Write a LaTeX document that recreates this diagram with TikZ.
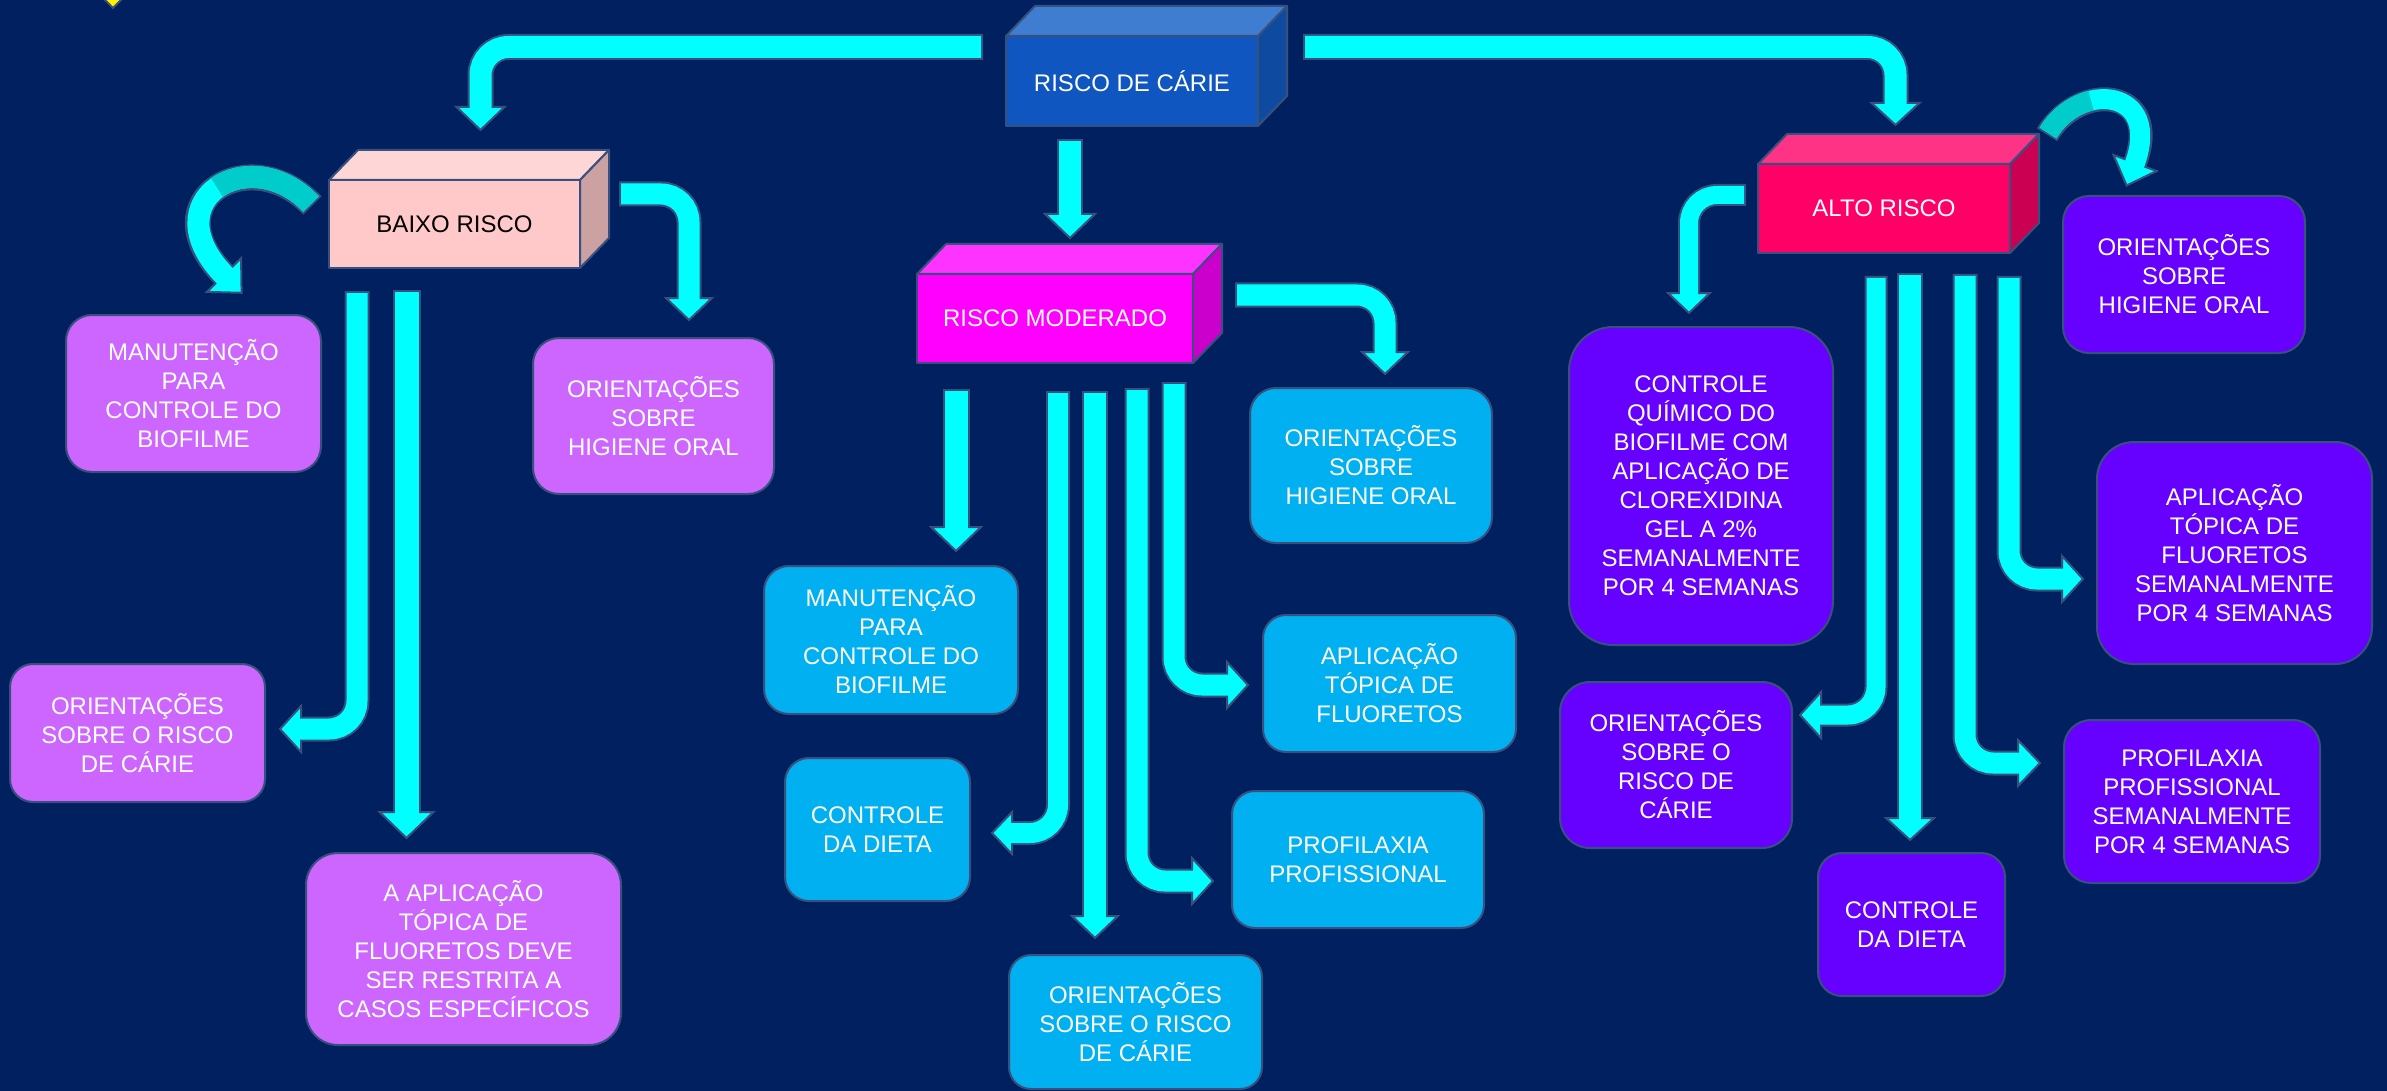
\documentclass[tikz,border=0pt]{standalone}
\usepackage{fontspec}
\setmainfont{Liberation Sans}
\usetikzlibrary{calc}

\definecolor{navy}{RGB}{0,32,96}
\definecolor{edge}{RGB}{56,80,125}
\definecolor{flow}{RGB}{0,255,255}
\definecolor{flowdark}{RGB}{0,204,204}
\definecolor{lilac}{RGB}{204,102,255}
\definecolor{sky}{RGB}{0,176,240}
\definecolor{violet}{RGB}{102,0,255}
% cuboid faces: front / top / side
\definecolor{blueF}{RGB}{15,86,192}
\definecolor{blueT}{RGB}{63,125,208}
\definecolor{blueS}{RGB}{14,75,160}
\definecolor{pinkF}{RGB}{255,201,201}
\definecolor{pinkT}{RGB}{255,214,214}
\definecolor{pinkS}{RGB}{204,161,161}
\definecolor{magF}{RGB}{255,0,255}
\definecolor{magT}{RGB}{255,51,255}
\definecolor{magS}{RGB}{204,0,204}
\definecolor{redF}{RGB}{255,0,102}
\definecolor{redT}{RGB}{255,51,133}
\definecolor{redS}{RGB}{204,0,82}

\newcommand{\boxfont}{\fontsize{24}{29}\selectfont}

\tikzset{
  card/.style={draw=edge, line width=2pt, rounded corners=#1, text=white,
    align=center, font=\boxfont, inner sep=0pt, outer sep=0pt},
  card/.default=25pt,
  face/.style={draw=edge, line width=2pt, inner sep=0pt, outer sep=0pt,
    font=\boxfont, line join=round, align=center},
}

% rounded text box: name, fill, cx, cy, width, height, radius, text
\newcommand{\card}[8]{%
  \node[card=#7, fill=#2, minimum width=#5pt, minimum height=#6pt] (#1) at (#3,#4) {#8};}

% 3D block: name, cx, cy, width, height, front, top, side, text
\newcommand{\cuboid}[9]{%
  \node[face, fill=#6, text=white, minimum width=#4pt, minimum height=#5pt] (#1) at (#2,#3) {#9};
  \filldraw[fill=#7, draw=edge, line width=2pt, line join=round]
    (#1.north west) -- ++(29,-30) -- ($(#1.north east)+(29,-30)$) -- (#1.north east) -- cycle;
  \filldraw[fill=#8, draw=edge, line width=2pt, line join=round]
    (#1.north east) -- ++(29,-30) -- ($(#1.south east)+(29,-30)$) -- (#1.south east) -- cycle;}

% block arrow: band width, head half-width, start, connector, head base, tip
\newcommand{\flowarrow}[6]{%
  \draw[line width=#1+4pt, edge, rounded corners=28pt, shorten <=-2pt] (#3) #4 (#5);
  \filldraw[fill=flow, draw=edge, line width=2pt]
    ($(#5)!#2!90:(#6)$) -- (#6) -- ($(#5)!#2!-90:(#6)$) -- cycle;
  \draw[line width=#1, flow, rounded corners=28pt, shorten >=-2pt] (#3) #4 (#5);}

\begin{document}
\begin{tikzpicture}[x=1pt,y=-1pt]
\useasboundingbox (0,0) rectangle (2387,1091);
\clip (0,0) rectangle (2387,1091);
\fill[navy] (0,0) rectangle (2387,1091);

% small marker in the upper left corner
\filldraw[fill=yellow, draw=edge, line width=2pt] (100,-5) -- (113,8) -- (126,-5) -- (113,-18) -- cycle;

% ---------- arrow end points ----------
\coordinate (tl-s) at (981,47);    \coordinate (tl-b) at (480.5,107); \coordinate (tl-t) at (480.5,130);
\coordinate (tr-s) at (1305,47);   \coordinate (tr-b) at (1895.5,103);\coordinate (tr-t) at (1895.5,125);
\coordinate (tm-s) at (1070,141);  \coordinate (tm-b) at (1070,214);  \coordinate (tm-t) at (1070,238);

\coordinate (br-s) at (621,194);   \coordinate (br-b) at (689,298);   \coordinate (br-t) at (689,320);
\coordinate (b1-s) at (357,293);   \coordinate (b1-b) at (301,729);   \coordinate (b1-t) at (280,729);
\coordinate (b2-s) at (406.5,292); \coordinate (b2-b) at (406.5,812); \coordinate (b2-t) at (406.5,838);

\coordinate (mr-s) at (1237,295);  \coordinate (mr-b) at (1385,352);  \coordinate (mr-t) at (1385,374);
\coordinate (m1-s) at (956,391);   \coordinate (m1-b) at (956,527);   \coordinate (m1-t) at (956,551);
\coordinate (m2-s) at (1058,393);  \coordinate (m2-b) at (1012,833);  \coordinate (m2-t) at (992,833);
\coordinate (m3-s) at (1095,393);  \coordinate (m3-b) at (1095,916);  \coordinate (m3-t) at (1095,938);
\coordinate (m4-s) at (1137,390);  \coordinate (m4-b) at (1192,881);  \coordinate (m4-t) at (1213,881);
\coordinate (m5-s) at (1174,384);  \coordinate (m5-b) at (1227,685);  \coordinate (m5-t) at (1248,685);

\coordinate (al-s) at (1744,195);  \coordinate (al-b) at (1689,293);  \coordinate (al-t) at (1689,313);
\coordinate (a1-s) at (1876,278);  \coordinate (a1-b) at (1821,715);  \coordinate (a1-t) at (1800,715);
\coordinate (a2-s) at (1910,275);  \coordinate (a2-b) at (1910,818);  \coordinate (a2-t) at (1910,840);
\coordinate (a3-s) at (1965,276);  \coordinate (a3-b) at (2018,763);  \coordinate (a3-t) at (2040,763);
\coordinate (a4-s) at (2009,278);  \coordinate (a4-b) at (2062,579);  \coordinate (a4-t) at (2083,579);

\coordinate (ll-s) at (311,204);   \coordinate (ll-b) at (224,275);   \coordinate (ll-t) at (241.6,292.8);
\coordinate (rl-s) at (2048,133);  \coordinate (rl-b) at (2135,163);  \coordinate (rl-t) at (2126.6,185.5);

% ---------- straight and elbow arrows ----------
\flowarrow{22pt}{24pt}{tl-s}{-|}{tl-b}{tl-t}
\flowarrow{22pt}{24pt}{tr-s}{-|}{tr-b}{tr-t}
\flowarrow{22pt}{25pt}{tm-s}{--}{tm-b}{tm-t}

\flowarrow{21pt}{23pt}{br-s}{-|}{br-b}{br-t}
\flowarrow{21pt}{23pt}{b1-s}{|-}{b1-b}{b1-t}
\flowarrow{24pt}{27pt}{b2-s}{--}{b2-b}{b2-t}

\flowarrow{21pt}{23pt}{mr-s}{-|}{mr-b}{mr-t}
\flowarrow{23pt}{25pt}{m1-s}{--}{m1-b}{m1-t}
\flowarrow{20pt}{21pt}{m2-s}{|-}{m2-b}{m2-t}
\flowarrow{22pt}{23pt}{m3-s}{--}{m3-b}{m3-t}
\flowarrow{21pt}{23pt}{m4-s}{|-}{m4-b}{m4-t}
\flowarrow{21pt}{23pt}{m5-s}{|-}{m5-b}{m5-t}

\flowarrow{18pt}{21pt}{al-s}{-|}{al-b}{al-t}
\flowarrow{19pt}{23pt}{a1-s}{|-}{a1-b}{a1-t}
\flowarrow{22pt}{24pt}{a2-s}{--}{a2-b}{a2-t}
\flowarrow{21pt}{23pt}{a3-s}{|-}{a3-b}{a3-t}
\flowarrow{21pt}{23pt}{a4-s}{|-}{a4-b}{a4-t}

% ---------- curved arrows, shaded where they pass behind ----------
\draw[line width=26pt, edge, shorten <=-2pt] (ll-s) .. controls (250,140) and (150,200) .. (ll-b);
\filldraw[fill=flow, draw=edge, line width=2pt]
  ($(ll-b)!24pt!90:(ll-t)$) -- (ll-t) -- ($(ll-b)!24pt!-90:(ll-t)$) -- cycle;
\draw[line width=22pt, flow, shorten >=-2pt] (ll-s) .. controls (250,140) and (150,200) .. (ll-b);
\draw[line width=22pt, flowdark] (ll-s) .. controls (280.5,172) and (240.25,171) .. (216.9,187.4);

\draw[line width=24pt, edge, shorten <=-2pt] (rl-s) .. controls (2080,80) and (2163,88) .. (rl-b);
\filldraw[fill=flow, draw=edge, line width=2pt]
  ($(rl-b)!23pt!90:(rl-t)$) -- (rl-t) -- ($(rl-b)!23pt!-90:(rl-t)$) -- cycle;
\draw[line width=20pt, flow, shorten >=-2pt] (rl-s) .. controls (2080,80) and (2163,88) .. (rl-b);
\draw[line width=20pt, flowdark] (rl-s) .. controls (2058.67,115.33) and (2075,104.44) .. (2091,100.55);

% ---------- 3D blocks ----------
\cuboid{carie}{1132}{81}{252}{90}{blueF}{blueT}{blueS}{RISCO DE CÁRIE}
\cuboid{baixo}{454.5}{224}{251}{88}{pinkF}{pinkT}{pinkS}{\color{black}BAIXO RISCO}
\cuboid{moderado}{1055}{318.5}{276}{89}{magF}{magT}{magS}{RISCO MODERADO}
\cuboid{alto}{1884}{208.5}{252}{89}{redF}{redT}{redS}{ALTO RISCO}

% ---------- low risk ----------
\card{bManut}{lilac}{193.5}{393.5}{255}{157}{26pt}{MANUTENÇÃO\\PARA\\CONTROLE DO\\BIOFILME}
\card{bHig}{lilac}{653.5}{416}{241}{156}{26pt}{ORIENTAÇÕES\\SOBRE\\HIGIENE ORAL}
\card{bRisco}{lilac}{137.5}{733}{255}{138}{23pt}{ORIENTAÇÕES\\SOBRE O RISCO\\DE CÁRIE}
\card{bFluor}{lilac}{463.5}{949}{315}{192}{32pt}{A APLICAÇÃO\\TÓPICA DE\\FLUORETOS DEVE\\SER RESTRITA A\\CASOS ESPECÍFICOS}

% ---------- moderate risk ----------
\card{mHig}{sky}{1371}{465.5}{242}{155}{26pt}{ORIENTAÇÕES\\SOBRE\\HIGIENE ORAL}
\card{mManut}{sky}{891}{640}{254}{148}{25pt}{MANUTENÇÃO\\PARA\\CONTROLE DO\\BIOFILME}
\card{mFluor}{sky}{1389.5}{683.5}{253}{137}{23pt}{APLICAÇÃO\\TÓPICA DE\\FLUORETOS}
\card{mDieta}{sky}{877.5}{829.5}{185}{143}{24pt}{CONTROLE\\DA DIETA}
\card{mProf}{sky}{1358}{859.5}{252}{137}{23pt}{PROFILAXIA\\PROFISSIONAL}
\card{mRisco}{sky}{1135.5}{1022}{253}{134}{22pt}{ORIENTAÇÕES\\SOBRE O RISCO\\DE CÁRIE}

% ---------- high risk ----------
\card{aQuim}{violet}{1701}{486}{264}{318}{44pt}{CONTROLE\\QUÍMICO DO\\BIOFILME COM\\APLICAÇÃO DE\\CLOREXIDINA\\GEL A 2\%\\SEMANALMENTE\\POR 4 SEMANAS}
\card{aHig}{violet}{2184}{274.5}{242}{157}{26pt}{ORIENTAÇÕES\\SOBRE\\HIGIENE ORAL}
\card{aFluor}{violet}{2234.5}{553}{275}{222}{37pt}{APLICAÇÃO\\TÓPICA DE\\FLUORETOS\\SEMANALMENTE\\POR 4 SEMANAS}
\card{aRisco}{violet}{1676}{765}{232}{166}{30pt}{ORIENTAÇÕES\\SOBRE O\\RISCO DE\\CÁRIE}
\card{aProf}{violet}{2192}{801.5}{256}{163}{27pt}{PROFILAXIA\\PROFISSIONAL\\SEMANALMENTE\\POR 4 SEMANAS}
\card{aDieta}{violet}{1911.5}{924.5}{187}{143}{24pt}{CONTROLE\\DA DIETA}
\end{tikzpicture}
\end{document}
